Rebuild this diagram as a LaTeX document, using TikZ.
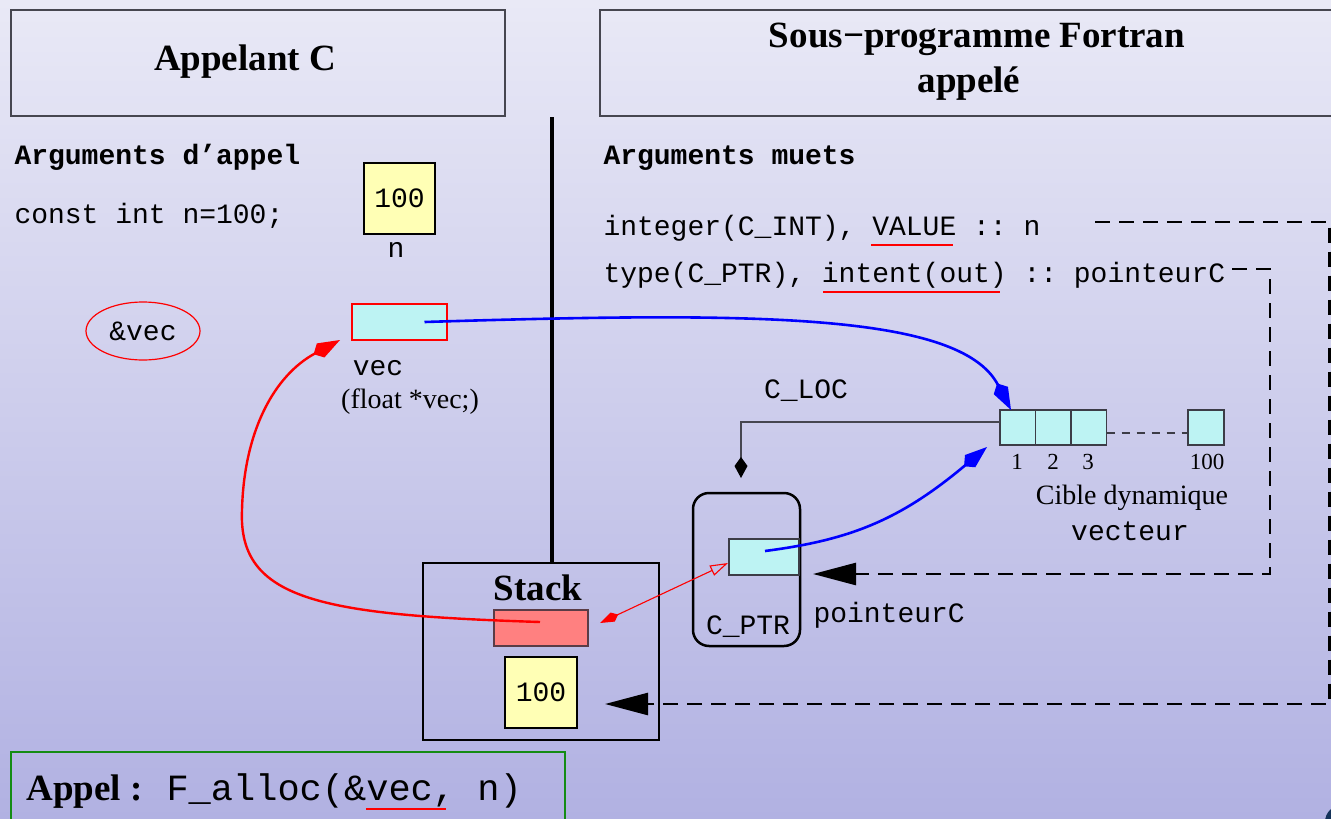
\documentclass[tikz,border=0pt]{standalone}
\usepackage{fontspec}
\setmainfont{Liberation Serif}
\setmonofont{Liberation Mono}
\usetikzlibrary{arrows.meta,calc,shapes.geometric}

\definecolor{bgtop}{RGB}{233,233,246}
\definecolor{bgbot}{RGB}{177,177,226}
\definecolor{cellc}{RGB}{189,243,243}
\definecolor{cellline}{RGB}{60,60,70}
\definecolor{yelc}{RGB}{255,255,181}
\definecolor{pinkc}{RGB}{255,128,128}
\definecolor{pinkline}{RGB}{90,60,70}
\definecolor{greenc}{RGB}{20,140,20}
\definecolor{titleline}{RGB}{70,70,80}
\definecolor{clocgray}{RGB}{70,70,80}
\definecolor{arrowblue}{RGB}{0,0,255}
\definecolor{logoblue}{RGB}{20,50,90}

\tikzset{
  mono/.style={font=\ttfamily\fontsize{28}{32}\selectfont},
  monobold/.style={font=\ttfamily\bfseries\fontsize{28}{32}\selectfont},
  bigmono/.style={font=\ttfamily\fontsize{37}{42}\selectfont},
  serif/.style={font=\fontsize{28}{32}\selectfont},
  digit/.style={font=\fontsize{23}{26}\selectfont, anchor=base},
  titlefont/.style={font=\bfseries\fontsize{37}{44}\selectfont},
  box/.style={inner sep=0pt, outer sep=0pt, anchor=north west},
  titlebox/.style={box, draw=titleline, line width=1.4pt},
  cellbox/.style={box, draw=cellline, line width=1.5pt, fill=cellc,
    minimum width=35.5pt, minimum height=35pt},
  valbox/.style={box, draw=black, line width=2.5pt, fill=yelc,
    minimum width=71pt, minimum height=71pt, mono},
  bluearrow/.style={draw=arrowblue, line width=2.6pt,
    -{Kite[length=30pt,width=16pt,inset=8pt]}},
  redcurve/.style={draw=red, line width=2.4pt,
    -{Kite[length=30pt,width=16pt,inset=8pt]}},
  redthin/.style={draw=red, line width=1.1pt,
    {Kite[length=20pt,width=10pt,inset=6pt]}-{Triangle[open,length=18pt,width=11pt]}},
  clocline/.style={draw=clocgray, line width=1.6pt,
    -{Kite[length=21pt,width=13pt,inset=9pt,fill=black,color=black]}},
  dashlink/.style={line width=2.6pt, dash pattern=on 15pt off 9pt,
    -{Triangle[length=43pt,width=22pt]}},
  dotlink/.style={draw=cellline, line width=1.3pt, dash pattern=on 8pt off 7pt},
  uline/.style={draw=red, line width=2.2pt},
}

\begin{document}
\begin{tikzpicture}[x=1pt,y=-1pt]
\useasboundingbox (0,0) rectangle (1331,819);
\shade[top color=bgtop,bottom color=bgbot] (0,0) rectangle (1331,819);

% headers
\node[titlebox, minimum width=494pt, minimum height=106pt] (hdrC) at (11,10) {};
\node[titlefont, anchor=base] (hdrCtxt) at (245,70) {Appelant C};
\node[titlebox, minimum width=734pt, minimum height=106pt] (hdrF) at (600,10) {};
\node[titlefont, anchor=base] (hdrF1) at (977,47) {Sous−programme Fortran};
\node[titlefont, anchor=base] (hdrF2) at (969,92) {appelé};

% caller side
\node[monobold, anchor=base west] (argsC) at (11,164) {Arguments d’appel};
\node[mono, anchor=base west] (decl) at (11,223) {const int n=100;};
\node[valbox] (nval) at (364,163) {100};
\node[mono, anchor=base] (nlab) at (396,257) {n};
\node[draw=red, line width=1.2pt, ellipse, minimum width=114pt,
      minimum height=58pt, inner sep=0pt, mono] (addr) at (143,331) {\&vec};
\node[box, draw=red, line width=1.2pt, fill=cellc, minimum width=95pt,
      minimum height=36pt] (vecbox) at (352,304) {};
\node[mono, anchor=base] (veclab) at (378,375) {vec};
\node[serif, anchor=base] (vecdecl) at (410,408) {(float *vec;)};

% separator
\coordinate (sepTop) at (552,117);

% stack
\node[box, draw=black, line width=2.5pt, minimum width=236pt,
      minimum height=177pt] (stack) at (423,563) {};
\draw[line width=4pt] (sepTop) -- (sepTop |- stack.north);
\node[titlefont, anchor=base] (stacklab) at (538,600) {Stack};
\node[box, draw=pinkline, line width=1.5pt, fill=pinkc, minimum width=94pt,
      minimum height=36pt] (pinkbox) at (494,610) {};
\node[valbox, minimum width=72pt] (sval) at (505,657) {100};

% called side
\node[monobold, anchor=base west] (argsF) at (600,164) {Arguments muets};
\node[mono, anchor=base west] (lineN) at (600,235) {integer(C\_INT), VALUE :: n};
\node[mono, anchor=base west] (lineP) at (600,282) {type(C\_PTR), intent(out) :: pointeurC};
\draw[uline] (871,245) -- (953,245);
\draw[uline] (823,292) -- (1000,292);

% dynamic target
\node[cellbox] (cell1) at (1000,410) {};
\node[cellbox] (cell2) at (1035.5,410) {};
\node[cellbox] (cell3) at (1071,410) {};
\node[cellbox, minimum width=36pt] (cell100) at (1188,410) {};
\draw[dotlink] ($(cell3.south east)+(0,-12)$) -- ($(cell100.south west)+(0,-12)$);
\node[digit] (d1) at (1017,469) {1};
\node[digit] (d2) at (1053,469) {2};
\node[digit] (d3) at (1088,469) {3};
\node[digit] (d100) at (1207,469) {100};
\node[serif, anchor=base] (cible) at (1132,504) {Cible dynamique};
\node[mono, anchor=base] (vecteur) at (1130,540) {vecteur};

% C pointer
\node[box, draw=black, line width=2.5pt, rounded corners=16pt,
      minimum width=107pt, minimum height=153pt] (cptr) at (693,493) {};
\node[cellbox, minimum width=70pt, minimum height=36pt] (ptrcell) at (729,539) {};
\node[mono, anchor=base] (cptrlab) at (748,634) {C\_PTR};
\node[mono, anchor=base west] (pclab) at (810,622) {pointeurC};
\node[mono, anchor=base] (cloclab) at (806,398) {C\_LOC};

% connectors
\coordinate (clocEnd) at (741,478);
\draw[clocline] ($(cell1.west)+(0,-5.5)$) -| (clocEnd);

\draw[bluearrow] ($(vecbox.center)+(25,0)$)
  .. controls (750,312) and (960,312) .. ($(cell1.north west)+(11,0)$);
\draw[bluearrow] ($(ptrcell.center)+(1,-6)$)
  .. controls (850,540) and (900,520) .. ($(cell1.south west)+(-13,2)$);

\draw[redcurve] ($(pinkbox.center)+(-1,-6)$)
  .. controls (320,615) and (238,600) .. (242,510)
  .. controls (244,430) and (275,375) .. ($(vecbox.south west)+(-12,0)$);
\draw[redthin] ($(pinkbox.east)+(12,-5)$) -- ($(ptrcell.west)+(-1,6)$);

\coordinate (pcTail) at (1232,269);
\coordinate (pcTip) at (813,574);
\draw[dashlink] (pcTail) -| (1270,574) -- (pcTip);

\coordinate (nTail) at (1095,222);
\coordinate (nTip) at (605,704);
\draw[dashlink] (nTail) -| (1329.5,704) -- (nTip);

% call line
\node[box, draw=greenc, line width=2pt, minimum width=554pt,
      minimum height=80pt] (callbox) at (11,752) {};
\node[titlefont, anchor=base west] (callA) at (23,800) {Appel :};
\node[bigmono, anchor=base west] (callF) at (163,800) {F\_alloc(\&vec, n)};
\draw[uline] (366,809) -- (446,809);

% corner logo fragment
\fill[logoblue] (1342,822) circle (17pt);
\fill[white] (1342,822) circle (11pt);
\fill[logoblue] (1342,822) circle (8pt);
\end{tikzpicture}
\end{document}
